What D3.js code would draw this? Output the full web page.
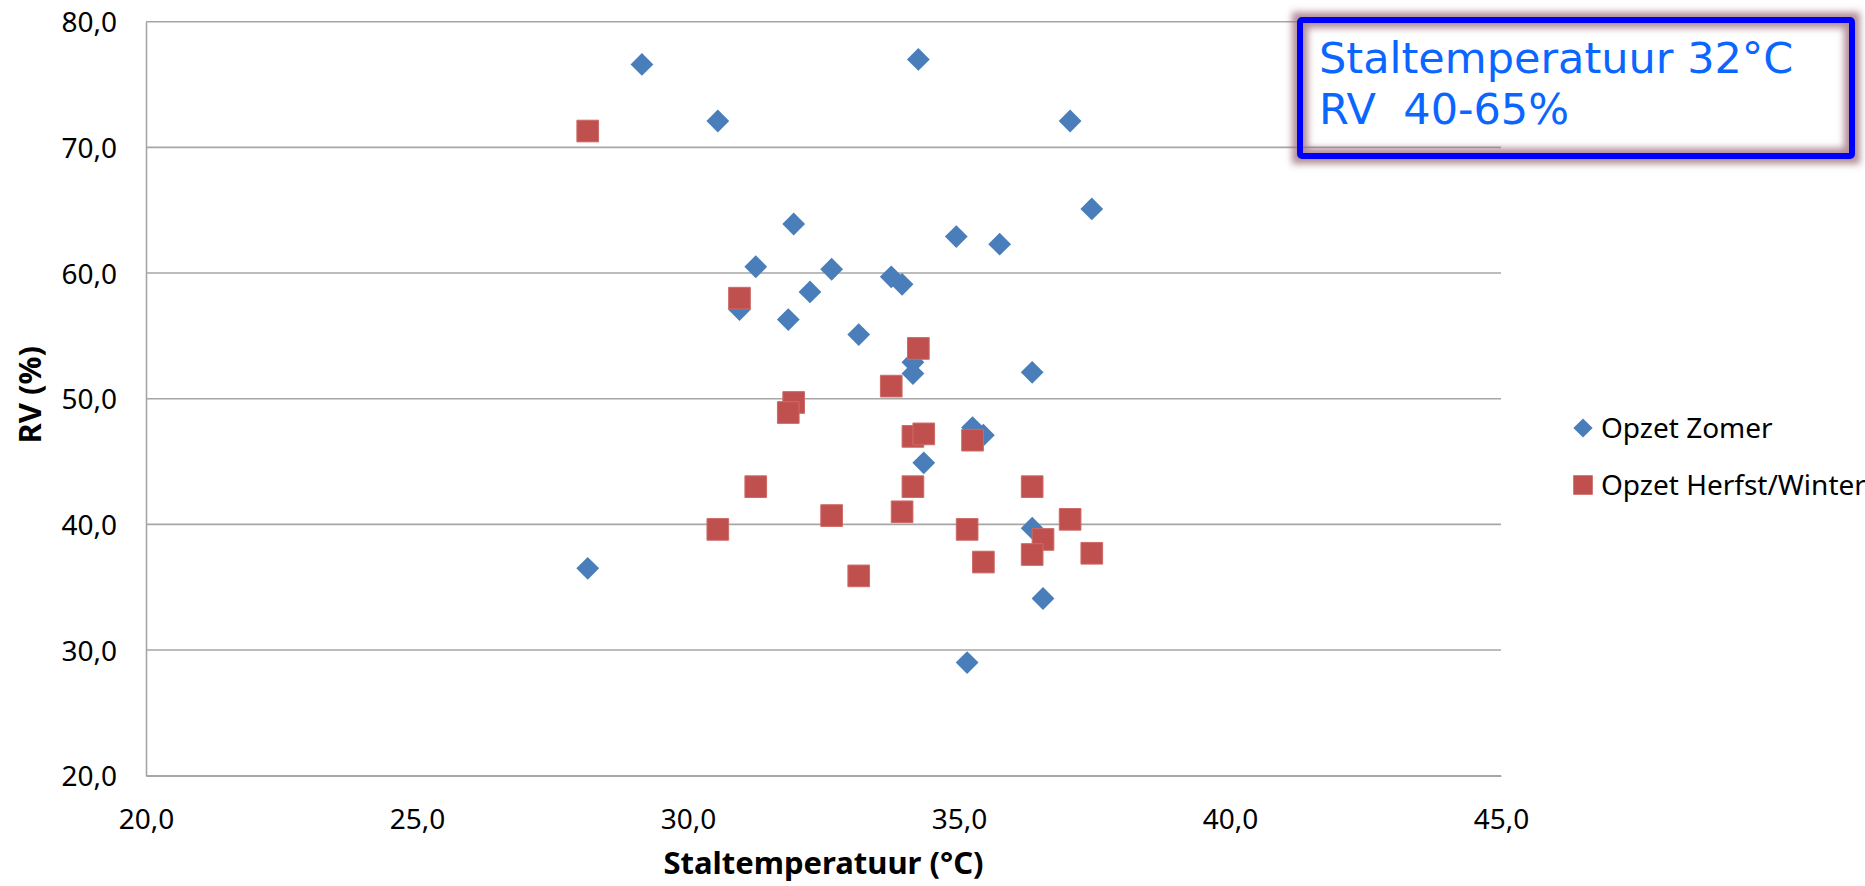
<!DOCTYPE html>
<html>
<head>
<meta charset="utf-8">
<script src="https://cdn.jsdelivr.net/npm/d3@7"></script>
<style>
  html, body { margin: 0; padding: 0; background: #fff; }
  svg { display: block; }
</style>
</head>
<body>
<svg id="chart" width="1865" height="886"></svg>
<script>
// Stal measurements: temperature (°C) vs relative humidity (%)
const zomerX = [29.15, 34.25, 30.55, 37.05, 37.45, 31.95, 34.95, 35.75, 31.25, 32.65, 33.75, 33.95, 32.25,
                30.95, 31.85, 33.15, 34.15, 34.15, 36.35, 35.25, 35.45, 34.35, 36.35, 28.15, 36.55, 35.15];
const zomerY = [76.6, 77.0, 72.1, 72.1, 65.1, 63.9, 62.9, 62.3, 60.5, 60.3, 59.7, 59.1, 58.5,
                57.1, 56.3, 55.1, 52.9, 52.0, 52.1, 47.7, 47.1, 44.9, 39.7, 36.5, 34.1, 29.0];

const herfstX = [28.15, 30.95, 34.25, 31.95, 31.85, 33.75, 34.15, 34.35, 35.25, 31.25, 34.15,
                 36.35, 32.65, 33.95, 37.05, 30.55, 35.15, 36.55, 36.35, 37.45, 35.45, 33.15];
const herfstY = [71.3, 58.0, 54.0, 49.7, 48.9, 51.0, 47.0, 47.2, 46.7, 43.0, 43.0,
                 43.0, 40.7, 41.0, 40.4, 39.6, 39.6, 38.8, 37.6, 37.7, 37.0, 35.9];

const seriesNames = ["Opzet Zomer", "Opzet Herfst/Winter"];
const xTicks = [20, 25, 30, 35, 40, 45];
const yTicks = [20, 30, 40, 50, 60, 70, 80];
const xTitle = "Staltemperatuur (°C)";
const yTitle = "RV (%)";
const noteLines = ["Staltemperatuur 32°C", "RV  40-65%"];

const blue = "#4a7ebb";
const red = "#c0504d";
const labelFont = "'Noto Sans', 'Open Sans', sans-serif";
const fmt = v => v.toFixed(1).replace(".", ",");

const svg = d3.select("#chart");

const plot = { left: 146, right: 1501, top: 21.7, bottom: 775.7 };
const x = d3.scaleLinear().domain([20, 45]).range([plot.left, plot.right]);
const y = d3.scaleLinear().domain([20, 80]).range([plot.bottom, plot.top]);

// horizontal gridlines
svg.append("g")
  .selectAll("line")
  .data(yTicks)
  .join("line")
  .attr("x1", plot.left).attr("x2", plot.right)
  .attr("y1", d => y(d)).attr("y2", d => y(d))
  .attr("stroke", "#a6a6a6").attr("stroke-width", 1.6);

// y axis
const yAxis = svg.append("g")
  .attr("transform", `translate(${plot.left},0)`)
  .call(d3.axisLeft(y).tickValues(yTicks).tickFormat(fmt).tickSize(0).tickPadding(29));
yAxis.select(".domain").attr("stroke", "#a6a6a6").attr("stroke-width", 1.6);
yAxis.selectAll("text")
  .attr("font-family", labelFont).attr("font-size", 28).attr("fill", "#000")
  .attr("dy", "0.36em");

// x axis
const xAxis = svg.append("g")
  .attr("transform", `translate(0,${plot.bottom})`)
  .call(d3.axisBottom(x).tickValues(xTicks).tickFormat(fmt).tickSize(0).tickPadding(33));
xAxis.select(".domain").attr("stroke", "#a6a6a6").attr("stroke-width", 1.6);
xAxis.selectAll("text")
  .attr("font-family", labelFont).attr("font-size", 28).attr("fill", "#000")
  .attr("dy", "0.71em");

// axis titles
svg.append("text")
  .attr("x", (plot.left + plot.right) / 2).attr("y", 874)
  .attr("text-anchor", "middle")
  .attr("font-family", labelFont).attr("font-weight", "bold").attr("font-size", 31)
  .text(xTitle);

svg.append("text")
  .attr("transform", `translate(41,${(plot.top + plot.bottom) / 2 - 4}) rotate(-90)`)
  .attr("text-anchor", "middle")
  .attr("font-family", labelFont).attr("font-weight", "bold").attr("font-size", 31)
  .text(yTitle);

// markers
const diamond = d3.symbol().type(d3.symbolSquare).size(260);
const square = d3.symbol().type(d3.symbolSquare).size(470);

svg.append("g")
  .selectAll("path")
  .data(d3.zip(zomerX, zomerY))
  .join("path")
  .attr("d", diamond)
  .attr("transform", d => `translate(${x(d[0])},${y(d[1])}) rotate(45)`)
  .attr("fill", blue);

svg.append("g")
  .selectAll("path")
  .data(d3.zip(herfstX, herfstY))
  .join("path")
  .attr("d", square)
  .attr("transform", d => `translate(${x(d[0])},${y(d[1])})`)
  .attr("fill", red)
  .attr("stroke", "#cd6a67").attr("stroke-width", 1);

// legend
const legend = svg.append("g").attr("transform", "translate(1583,0)");
const legendRows = [
  { name: seriesNames[0], cy: 428, sym: d3.symbol().type(d3.symbolSquare).size(185), rot: 45, color: blue },
  { name: seriesNames[1], cy: 485, sym: d3.symbol().type(d3.symbolSquare).size(380), rot: 0, color: red }
];
legendRows.forEach(r => {
  legend.append("path")
    .attr("d", r.sym)
    .attr("transform", `translate(0,${r.cy}) rotate(${r.rot})`)
    .attr("fill", r.color);
  legend.append("text")
    .attr("x", 18).attr("y", r.cy + 10)
    .attr("font-family", labelFont).attr("font-size", 28).attr("fill", "#000")
    .text(r.name);
});

// annotation box with glow
const defs = svg.append("defs");
defs.append("filter").attr("id", "glow")
  .attr("x", "-10%").attr("y", "-30%").attr("width", "120%").attr("height", "160%")
  .append("feGaussianBlur").attr("stdDeviation", 3.5);

const box = { x: 1300, y: 20, w: 552, h: 136 };
svg.append("rect")
  .attr("x", box.x).attr("y", box.y).attr("width", box.w).attr("height", box.h)
  .attr("fill", "none").attr("stroke", "#9a6a76").attr("stroke-opacity", 0.75)
  .attr("stroke-width", 16).attr("filter", "url(#glow)");
svg.append("rect")
  .attr("x", box.x).attr("y", box.y).attr("width", box.w).attr("height", box.h)
  .attr("rx", 2)
  .attr("fill", "none").attr("stroke", "#0000ff").attr("stroke-width", 6);

svg.append("g")
  .selectAll("text")
  .data(noteLines)
  .join("text")
  .attr("x", 1319)
  .attr("y", (d, i) => 73 + i * 51)
  .attr("xml:space", "preserve")
  .style("white-space", "pre")
  .attr("font-family", "'DejaVu Sans', Verdana, sans-serif")
  .attr("font-size", 43)
  .attr("fill", "#0a66ff")
  .text(d => d);
</script>
</body>
</html>
